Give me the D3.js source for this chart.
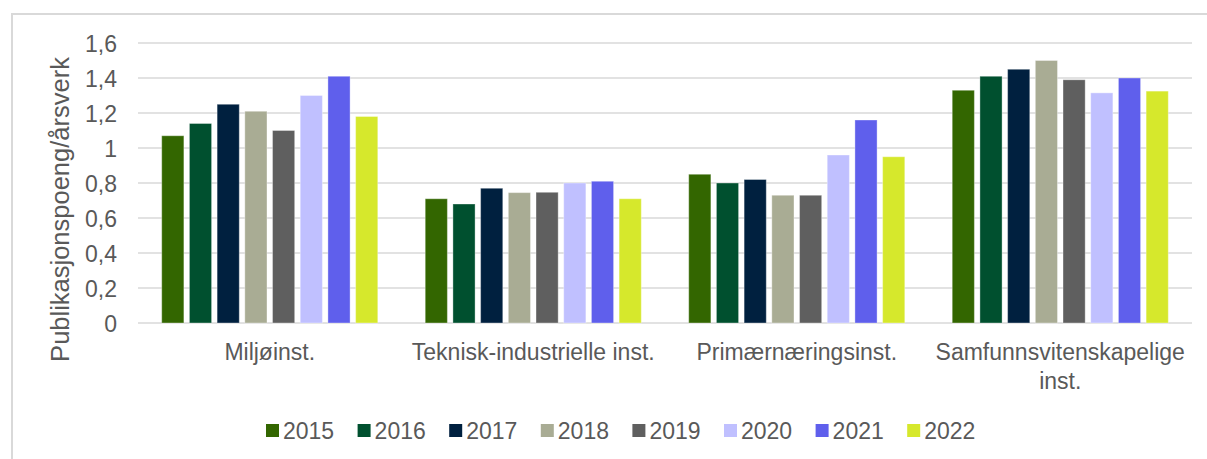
<!DOCTYPE html>
<html>
<head>
<meta charset="utf-8">
<script src="https://cdn.jsdelivr.net/npm/d3@7"></script>
<style>
  html, body { margin: 0; padding: 0; background: #ffffff; }
  svg { display: block; }
  text { font-family: "Liberation Sans", Arial, sans-serif; fill: #595959; }
</style>
</head>
<body>
<svg id="chart" width="1207" height="459"></svg>
<script>
// Categories (institute groups) and years
const categories = ["Miljøinst.", "Teknisk-industrielle inst.", "Primærnæringsinst.", "Samfunnsvitenskapelige inst."];
const categoryLines = [["Miljøinst."], ["Teknisk-industrielle inst."], ["Primærnæringsinst."], ["Samfunnsvitenskapelige", "inst."]];
const years = ["2015", "2016", "2017", "2018", "2019", "2020", "2021", "2022"];

// Publication points per FTE, one array per year (order follows categories)
const v2015 = [1.07, 0.71, 0.85, 1.33];
const v2016 = [1.14, 0.68, 0.80, 1.41];
const v2017 = [1.25, 0.77, 0.82, 1.45];
const v2018 = [1.21, 0.745, 0.73, 1.50];
const v2019 = [1.10, 0.747, 0.73, 1.39];
const v2020 = [1.30, 0.80, 0.96, 1.315];
const v2021 = [1.41, 0.81, 1.16, 1.40];
const v2022 = [1.18, 0.71, 0.95, 1.325];
const seriesValues = [v2015, v2016, v2017, v2018, v2019, v2020, v2021, v2022];

const yTickValues = [0, 0.2, 0.4, 0.6, 0.8, 1, 1.2, 1.4, 1.6];
const yTickLabels = ["0", "0,2", "0,4", "0,6", "0,8", "1", "1,2", "1,4", "1,6"];
const yTitle = "Publikasjonspoeng/årsverk";

const colors = ["#336600", "#00502f", "#00203f", "#a9ac94", "#5f5f5f", "#c0c0ff", "#5f5fec", "#d6e82c"];

const svg = d3.select("#chart");

// Outer chart frame (top and left edges visible)
svg.append("path")
  .attr("d", "M12,459 L12,14 L1207,14")
  .attr("fill", "none")
  .attr("stroke", "#d9d9d9")
  .attr("stroke-width", 2);

const plot = { left: 138, right: 1192, top: 43, bottom: 323 };

const x0 = d3.scaleBand()
  .domain(categories)
  .range([plot.left, plot.right])
  .paddingInner(0.18)
  .paddingOuter(0.09);

const x1 = d3.scaleBand()
  .domain(years)
  .range([0, x0.bandwidth()])
  .paddingInner(0.2)
  .paddingOuter(0);

const y = d3.scaleLinear()
  .domain([0, 1.6])
  .range([plot.bottom, plot.top]);

// Gridlines
svg.append("g")
  .selectAll("line")
  .data(yTickValues)
  .join("line")
  .attr("x1", plot.left)
  .attr("x2", plot.right)
  .attr("y1", d => y(d))
  .attr("y2", d => y(d))
  .attr("stroke", "#d9d9d9")
  .attr("stroke-width", 1.5);

// Y axis labels
const yAxis = d3.axisLeft(y)
  .tickValues(yTickValues)
  .tickFormat((d, i) => yTickLabels[i])
  .tickSize(0)
  .tickPadding(0);

const yAxisG = svg.append("g")
  .attr("transform", "translate(117,0)")
  .call(yAxis);
yAxisG.select(".domain").remove();
yAxisG.selectAll("text")
  .attr("font-size", 23)
  .attr("font-family", "Liberation Sans, Arial, sans-serif")
  .attr("fill", "#595959")
  .attr("dy", "0.36em");

// Y axis title
svg.append("text")
  .attr("transform", "translate(68.5,209.5) rotate(-90)")
  .attr("text-anchor", "middle")
  .attr("font-size", 25.5)
  .text(yTitle);

// Bars
const groups = svg.append("g")
  .selectAll("g")
  .data(categories)
  .join("g")
  .attr("transform", d => `translate(${x0(d)},0)`);

groups.selectAll("rect")
  .data((c, ci) => years.map((yr, si) => ({ yr, si, v: seriesValues[si][ci] })))
  .join("rect")
  .attr("x", d => x1(d.yr))
  .attr("width", x1.bandwidth())
  .attr("y", d => y(d.v))
  .attr("height", d => y(0) - y(d.v))
  .attr("fill", d => colors[d.si])
  .attr("stroke", "#ffffff")
  .attr("stroke-opacity", 0.35)
  .attr("stroke-width", 1);

// Category labels
const catLabels = svg.append("g")
  .selectAll("text")
  .data(categories)
  .join("text")
  .attr("x", d => x0(d) + x0.bandwidth() / 2)
  .attr("y", 360)
  .attr("text-anchor", "middle")
  .attr("font-size", 23);

catLabels.each(function (d, i) {
  const t = d3.select(this);
  const cx = x0(d) + x0.bandwidth() / 2;
  categoryLines[i].forEach((line, li) => {
    t.append("tspan")
      .attr("x", cx)
      .attr("dy", li === 0 ? 0 : 29)
      .text(line);
  });
});

// Legend
const legend = svg.append("g")
  .selectAll("g")
  .data(years)
  .join("g")
  .attr("transform", (d, i) => `translate(${266 + i * 91.6},424)`);

legend.append("rect")
  .attr("width", 13)
  .attr("height", 13)
  .attr("fill", (d, i) => colors[i]);

legend.append("text")
  .attr("x", 17)
  .attr("y", 14.5)
  .attr("font-size", 23)
  .text(d => d);
</script>
</body>
</html>
